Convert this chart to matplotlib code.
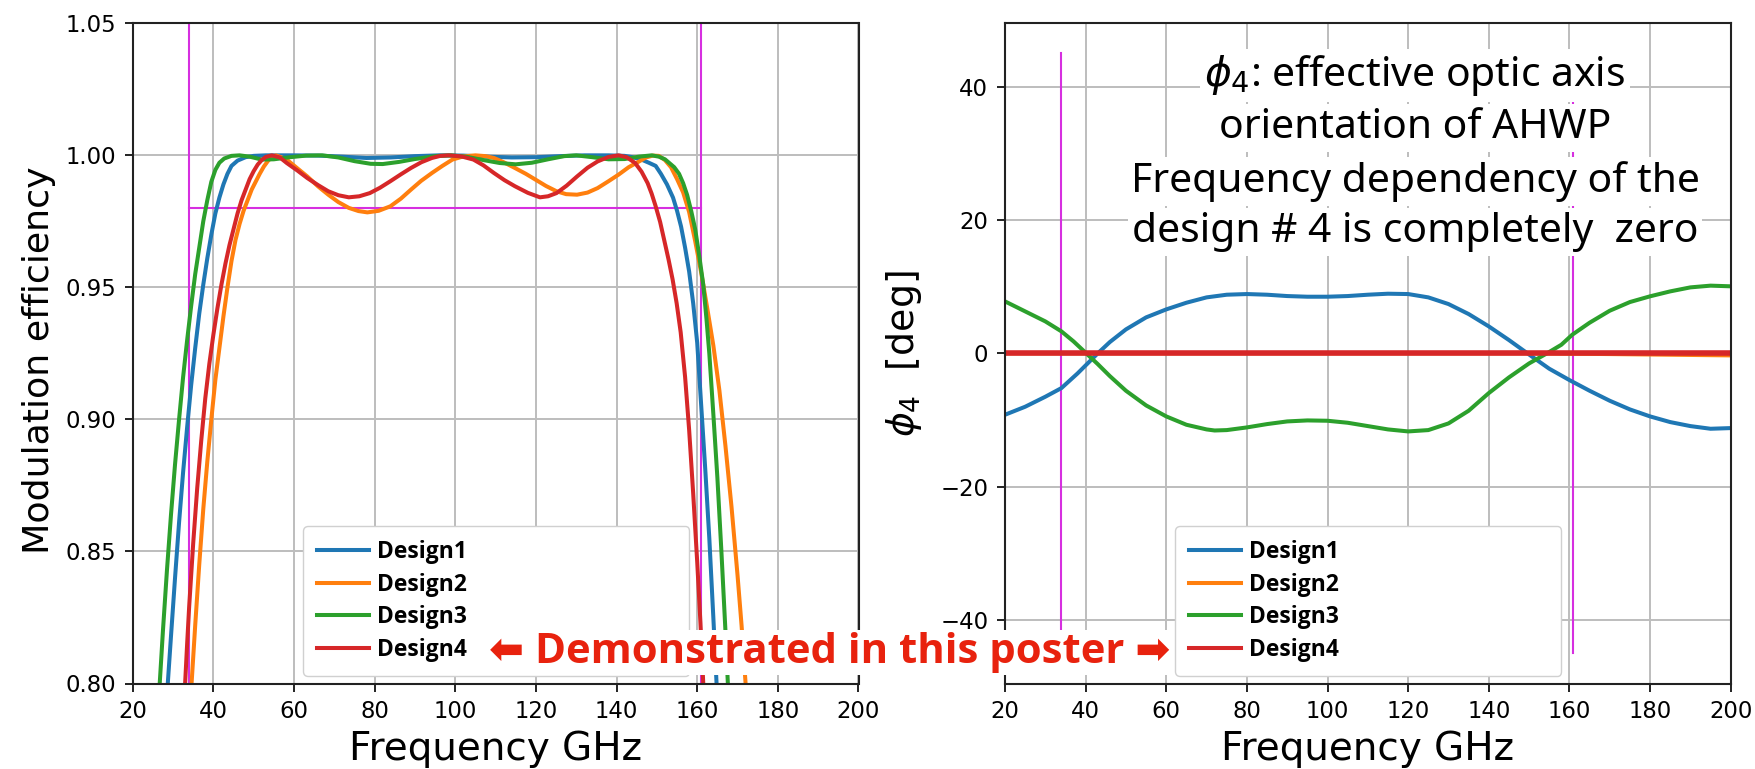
import matplotlib
matplotlib.use("Agg")
import matplotlib.pyplot as plt
from matplotlib.lines import Line2D

W, H, DPI = 1755, 769, 100

labels = ["Design1", "Design2", "Design3", "Design4"]
colors = ["#1f77b4", "#ff7f0e", "#2ca02c", "#d62728"]
band_color = "#d62fe0"

# band edges [GHz] and required modulation efficiency
band_lo, band_hi = 34, 161
eff_req = 0.98
phi_span = 45

# ---- modulation efficiency vs frequency ----
d1_f = [27.9, 28.7, 29.5, 30.5, 31.5, 32.5, 33.5, 34.5, 35.5, 36.5,
        37.5, 38.5, 39.5, 40.5, 41.5, 42.5, 43.5, 44.5, 46, 48,
        50, 53, 60, 66, 72, 78, 84, 90, 96, 102,
        108, 114, 120, 126, 132, 138, 142, 144, 146, 148,
        149.7, 151, 152.5, 154, 155, 156, 157, 158, 159, 160,
        161, 162, 163, 164, 164.8, 165.5]
d1_m = [0.775, 0.800, 0.818, 0.840, 0.861, 0.880, 0.897, 0.913, 0.927, 0.940,
        0.951, 0.961, 0.970, 0.978, 0.984, 0.989, 0.993, 0.996, 0.998, 0.9993,
        0.9998, 1.0, 1.0, 0.9999, 0.9995, 0.9990, 0.9992, 0.9997, 1.0, 0.9999,
        0.9995, 0.9992, 0.9993, 0.9997, 1.0, 1.0, 0.9998, 0.9993, 0.9985, 0.9972,
        0.996, 0.993, 0.989, 0.984, 0.979, 0.973, 0.965, 0.956, 0.944, 0.929,
        0.905, 0.881, 0.855, 0.825, 0.800, 0.775]

d2_f = [33.9, 34.6, 35.5, 36.5, 37.5, 38.5, 39.5, 40.5, 41.5, 42.5,
        43.5, 44.5, 45.5, 46.5, 47.5, 48.5, 49.5, 50.5, 51.5, 52.5,
        53.5, 54.5, 55.5, 57, 58.2, 60.5, 63.3, 66, 68.5, 71,
        73.6, 76, 78.2, 81, 83.9, 86.5, 89, 91.5, 94.2, 96.8,
        99.3, 102, 105, 107.5, 109.6, 112, 114.8, 117.5, 119.9, 122.5,
        125.1, 127.5, 130.2, 132.8, 135.3, 138, 140.5, 143, 145.6, 147.3,
        149, 150.5, 152, 153.5, 155, 156.5, 158, 159.5, 161, 162.5,
        164, 165.5, 167, 168.5, 170, 171, 172, 172.8]
d2_m = [0.775, 0.800, 0.822, 0.845, 0.866, 0.884, 0.900, 0.915, 0.927, 0.939,
        0.950, 0.960, 0.968, 0.974, 0.979, 0.983, 0.987, 0.990, 0.993, 0.9957,
        0.9978, 0.9994, 1.0, 0.9992, 0.9984, 0.9955, 0.9920, 0.9882, 0.9851, 0.9823,
        0.9801, 0.9789, 0.9784, 0.9790, 0.9807, 0.9836, 0.9870, 0.9903, 0.9933, 0.9960,
        0.9984, 0.9996, 1.0, 0.9997, 0.9990, 0.9974, 0.9952, 0.9930, 0.9908, 0.9884,
        0.9864, 0.9853, 0.9851, 0.9859, 0.9876, 0.9902, 0.9927, 0.9955, 0.9977, 0.9992,
        0.9999, 0.9998, 0.9982, 0.9955, 0.991, 0.986, 0.9785, 0.9675, 0.9555, 0.942,
        0.928, 0.911, 0.890, 0.867, 0.841, 0.822, 0.800, 0.782]

d3_f = [26.0, 26.7, 27.5, 28.5, 29.5, 30.5, 31.5, 32.5, 33.5, 34.5,
        35.5, 36.5, 37.5, 38.5, 39.5, 40.5, 41.5, 42.7, 44.5, 46.5,
        49, 52, 55, 59, 63, 67, 71, 75, 79, 82,
        86, 90, 95, 99, 103, 107, 111, 115, 119, 123,
        127, 130, 134, 138, 142, 145.5, 148.7, 150.5, 152, 153,
        154.3, 155.5, 156.5, 157.5, 158.5, 159.5, 160.5, 161.5, 162.3, 163,
        164, 165, 166, 167, 167.6, 168.3]
d3_m = [0.775, 0.800, 0.820, 0.843, 0.864, 0.883, 0.900, 0.916, 0.930, 0.943,
        0.955, 0.965, 0.975, 0.983, 0.990, 0.9945, 0.9972, 0.9988, 0.9998, 1.0,
        0.9995, 0.9984, 0.9985, 0.9993, 0.9999, 1.0, 0.9992, 0.9978, 0.9968, 0.9967,
        0.9975, 0.9986, 0.9997, 1.0, 0.9994, 0.9982, 0.9971, 0.9966, 0.9972, 0.9985,
        0.9997, 1.0, 0.9993, 0.9985, 0.9986, 0.9995, 1.0, 0.9995, 0.9985, 0.9972,
        0.9955, 0.993, 0.9895, 0.985, 0.979, 0.972, 0.962, 0.951, 0.938, 0.925,
        0.902, 0.878, 0.850, 0.820, 0.800, 0.775]

d4_f = [32.4, 33.0, 33.5, 34.0, 35.0, 36.0, 37.0, 38.0, 39.0, 40.0,
        41.0, 42.0, 43.0, 44.0, 45.0, 46.0, 47.0, 48.0, 49.0, 50.0,
        51.0, 52.0, 53.0, 54.5, 56.5, 58.2, 60.8, 63.3, 66, 68.5,
        71, 73.6, 76.2, 78.8, 81.3, 83.9, 86.5, 89, 91.6, 94.2,
        96.3, 98.3, 101.5, 104.5, 107, 109.6, 112.2, 114.8, 118, 121,
        123, 125.1, 127.6, 130.2, 132.8, 135.3, 138, 140.5, 142.5, 144.6,
        146.2, 147.7, 148.7, 149.7, 150.8, 151.8, 152.9, 153.9, 154.9, 155.9,
        157, 158, 159, 160, 160.8, 161.5, 162.2]
d4_m = [0.775, 0.800, 0.815, 0.829, 0.853, 0.874, 0.892, 0.908, 0.921, 0.932,
        0.942, 0.951, 0.959, 0.966, 0.972, 0.978, 0.983, 0.987, 0.991, 0.994,
        0.9965, 0.9982, 0.9994, 1.0, 0.9992, 0.9971, 0.9943, 0.9914, 0.9887, 0.9864,
        0.9849, 0.9841, 0.9845, 0.9857, 0.9877, 0.9902, 0.9928, 0.9952, 0.9974, 0.999,
        0.9998, 1.0, 0.9996, 0.9984, 0.9962, 0.9933, 0.9906, 0.9883, 0.9858, 0.9841,
        0.9845, 0.9857, 0.9885, 0.992, 0.9953, 0.9977, 0.9994, 1.0, 0.9993, 0.9971,
        0.9938, 0.9895, 0.9855, 0.9807, 0.9748, 0.968, 0.9605, 0.953, 0.944, 0.933,
        0.916, 0.896, 0.872, 0.846, 0.823, 0.800, 0.778]

# ---- effective optic axis angle phi_4 [deg] ----
p1_f = [20, 25, 30, 34, 38, 40, 43, 46, 50, 55, 60, 65, 70, 75, 80, 85, 90, 95, 100, 105, 110,
        115, 120, 125, 130, 135, 140, 145, 149.6, 155, 160, 165, 170, 175, 180, 185, 190, 195, 200]
p1_v = [-9.2, -8.0, -6.5, -5.2, -3.0, -1.8, 0.0, 1.7, 3.6, 5.4, 6.6, 7.6, 8.4, 8.8, 8.9, 8.8, 8.6,
        8.5, 8.5, 8.6, 8.8, 8.95, 8.9, 8.4, 7.4, 5.9, 4.05, 2.0, 0.0, -2.3, -4.0, -5.6, -7.1, -8.4,
        -9.45, -10.3, -10.9, -11.3, -11.2]

p2_f = [20, 60, 100, 150, 170, 185, 200]
p2_v = [0.0, 0.0, 0.0, 0.0, -0.1, -0.2, -0.3]

p3_f = [20, 25, 30, 34, 37, 40, 43, 46, 50, 55, 60, 65, 70, 72, 75, 80, 85, 90, 95, 100, 105,
        110, 115, 120, 125, 130, 135, 140, 145, 150, 154.4, 158, 160.7, 165, 170, 175, 180, 185,
        190, 195, 200]
p3_v = [7.8, 6.3, 4.8, 3.3, 1.8, 0.1, -1.6, -3.4, -5.6, -7.8, -9.45, -10.7, -11.4, -11.56, -11.5,
        -11.1, -10.6, -10.2, -10.05, -10.1, -10.4, -10.9, -11.4, -11.7, -11.5, -10.5, -8.6, -5.95,
        -3.6, -1.5, 0.0, 1.3, 2.8, 4.6, 6.4, 7.7, 8.56, 9.3, 9.9, 10.16, 10.06]

p4_f = [20, 200]
p4_v = [0.0, 0.0]

note_lines = [r"$\phi_4$: effective optic axis",
              "orientation of AHWP",
              "Frequency dependency of the",
              "design # 4 is completely  zero"]
banner = "\u2b05 Demonstrated in this poster \u27a1"

x_ticks = list(range(20, 201, 20))
eff_ticks = [0.80, 0.85, 0.90, 0.95, 1.00, 1.05]
phi_ticks = [-40, -20, 0, 20, 40]

note_font = ["Noto Sans", "DejaVu Sans"]
bold_font = ["Open Sans", "Liberation Sans", "DejaVu Sans"]

fig = plt.figure(figsize=(W / DPI, H / DPI), dpi=DPI)
ax1 = fig.add_axes([132.7 / W, (H - 683.5) / H, (858.5 - 132.7) / W, (683.5 - 23.3) / H])
ax2 = fig.add_axes([1005.0 / W, (H - 683.5) / H, (1730.7 - 1005.0) / W, (683.5 - 23.3) / H])


def style_axes(ax):
    ax.grid(True, color="#bdbdbd", lw=1.4)
    ax.set_axisbelow(True)
    for s in ax.spines.values():
        s.set_linewidth(1.5)
        s.set_color("#222222")
    ax.tick_params(direction="out", length=5.5, width=1.4, labelsize=16.4, pad=6.5,
                   color="#222222")
    ax.set_xlim(20, 200)
    ax.set_xticks(x_ticks)
    ax.set_xlabel("Frequency GHz", fontsize=28)
    ax.xaxis.set_label_coords(0.5, -0.07)


# ---- left panel ----
style_axes(ax1)
ax1.axvline(band_lo, color=band_color, lw=1.5, zorder=1.5)
ax1.axvline(band_hi, color=band_color, lw=1.5, zorder=1.5)
ax1.plot([band_lo, band_hi], [eff_req, eff_req], color=band_color, lw=1.5, zorder=1.5)
series_eff = [(d1_f, d1_m), (d2_f, d2_m), (d3_f, d3_m), (d4_f, d4_m)]
for (f, m), c in zip(series_eff, colors):
    ax1.plot(f, m, color=c, lw=2.9, zorder=2, solid_joinstyle="round")
ax1.set_ylim(0.80, 1.05)
ax1.set_yticks(eff_ticks)
ax1.set_yticklabels([f"{t:.2f}" for t in eff_ticks])
ax1.set_ylabel("Modulation efficiency", fontsize=26.2)
ax1.yaxis.set_label_coords(-0.106, 0.489)

# ---- right panel ----
style_axes(ax2)
ax2.plot([band_lo, band_lo], [-phi_span, phi_span], color=band_color, lw=1.5, zorder=1.5)
ax2.plot([band_hi, band_hi], [-phi_span, phi_span], color=band_color, lw=1.5, zorder=1.5)
series_phi = [(p1_f, p1_v), (p2_f, p2_v), (p3_f, p3_v), (p4_f, p4_v)]
widths = [2.9, 2.9, 2.9, 4.0]
for (f, v), c, lw in zip(series_phi, colors, widths):
    ax2.plot(f, v, color=c, lw=lw, zorder=2, solid_joinstyle="round")
ax2.set_ylim(-phi_span * 1.1, phi_span * 1.1)
ax2.set_yticks(phi_ticks)
ax2.set_ylabel(r"$\phi_4$  [deg]", fontsize=27.3)
ax2.yaxis.set_label_coords(-0.112, 0.5)

note_base = [0.9045, 0.8263, 0.7445, 0.6687]
for txt, y in zip(note_lines, note_base):
    ax2.text(0.565, y, txt, transform=ax2.transAxes, ha="center", va="baseline",
             fontsize=29.4, family=note_font, zorder=5,
             bbox=dict(boxstyle="square,pad=0.1", fc="white", ec="none"))

# ---- legends ----
handles = [Line2D([], [], color=c, lw=2.9) for c in colors]
for ax in (ax1, ax2):
    leg = ax.legend(handles, labels, loc="upper left",
                    bbox_to_anchor=(0.2346, 0.0174, 0.532, 0.2212), mode="expand",
                    borderaxespad=0, prop=dict(family=bold_font, weight="bold", size=16.5),
                    handlelength=2.25, handletextpad=0.35, labelspacing=0.37,
                    borderpad=0.62, framealpha=1, edgecolor="#d0d0d0", fancybox=True)
    leg.set_zorder(6)

fig.text(0.4728, 0.152, banner, ha="center", va="center", color="#e8220e",
         fontsize=30.2, fontweight="bold", family=bold_font,
         bbox=dict(boxstyle="square,pad=0.05", fc="white", ec="none"))

fig.savefig("out.png", dpi=DPI)
